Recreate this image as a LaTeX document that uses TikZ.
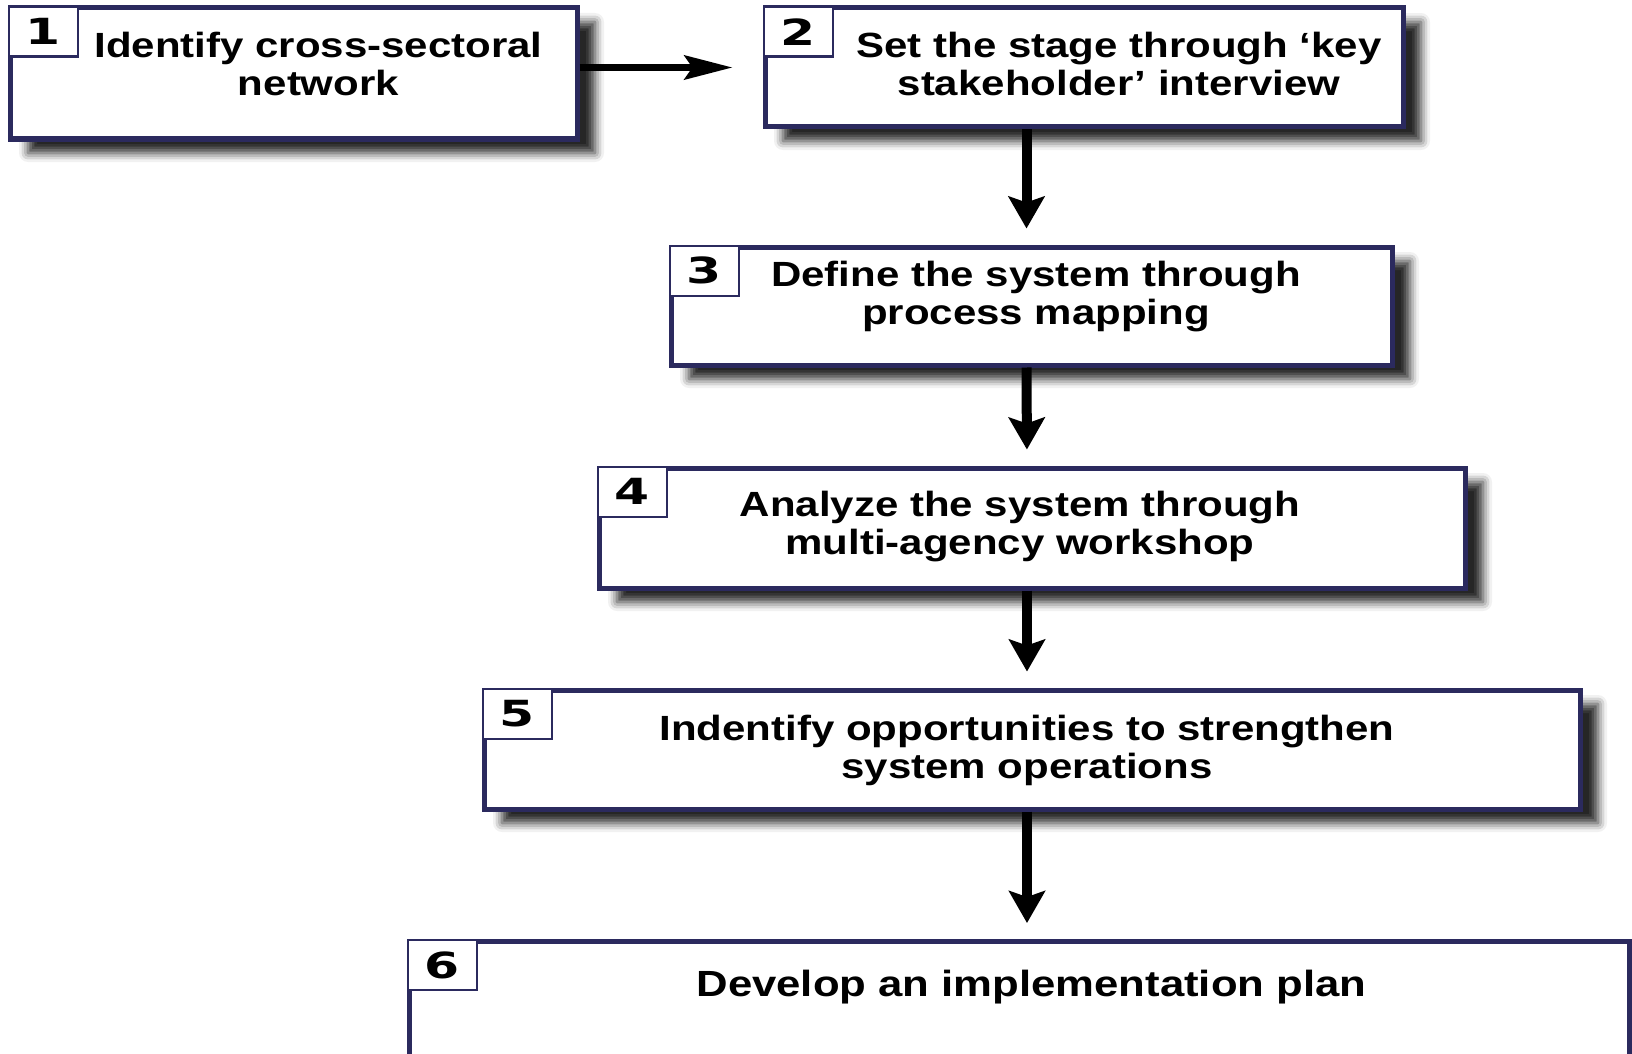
\documentclass[tikz,border=0pt]{standalone}
\usepackage{fontspec}
\setmainfont{Liberation Sans}[FakeStretch=1.2]
\newfontfamily\digitfont{DejaVu Sans}[FakeStretch=1.4]
\usetikzlibrary{arrows.meta,shadows.blur}
\definecolor{boxnavy}{RGB}{43,42,94}
\tikzset{
  stepbox/.style={draw=boxnavy, line width=2.5pt, fill=white,
    blur shadow={shadow xshift=9pt, shadow yshift=-7pt, shadow blur radius=4.5pt, shadow opacity=85}},
  steptext/.style={align=center, inner sep=0pt, font=\bfseries\fontsize{17.5}{19}\selectfont},
  numbox/.style={draw=boxnavy, line width=1.2pt, fill=white, anchor=north west, inner sep=0pt,
    minimum width=34.5pt, minimum height=25pt, font=\digitfont\bfseries\fontsize{18}{18}\selectfont},
  flowv/.style={-{Stealth[length=16pt,width=18pt,inset=3pt]}, line width=5pt, shorten >=8pt},
  flowh/.style={-{Stealth[length=24pt,width=12pt,inset=4pt]}, line width=3.5pt, shorten >=15pt}
}
\begin{document}
\begin{tikzpicture}[x=0.5pt,y=-0.5pt]
                      \path[use as bounding box, clip] (0,0) rectangle (1632,1054);
                      \node[stepbox, minimum width=283.5pt, minimum height=65.5pt] (s1) at (293.5,73.5) {};
                      \node[numbox] (n1) at (s1.north west) {1};
                      \node[steptext] (t1) at (318.5,64) {Identify cross-sectoral\\network};
                      \node[stepbox, minimum width=319pt, minimum height=59.5pt] (s2) at (1084,67.5) {};
                      \node[numbox] (n2) at (s2.north west) {2};
                      \node[steptext] (t2) at (1119,64) {Set the stage through `key\\stakeholder' interview};
                      \node[stepbox, minimum width=360.5pt, minimum height=59pt] (s3) at (1031.5,306) {};
                      \node[numbox] (n3) at (s3.north west) {3};
                      \node[steptext] (t3) at (1036,297) {Define the system through\\process mapping};
                      \node[stepbox, minimum width=433pt, minimum height=60pt] (s4) at (1032,528) {};
                      \node[numbox] (n4) at (s4.north west) {4};
                      \node[steptext] (t4) at (1020,527) {Analyze the system through\\multi-agency workshop};
                      \node[stepbox, minimum width=548pt, minimum height=59.5pt] (s5) at (1032,749.5) {};
                      \node[numbox] (n5) at (s5.north west) {5};
                      \node[steptext] (t5) at (1027,750) {Indentify opportunities to strengthen\\system operations};
                      \node[stepbox, minimum width=610pt, minimum height=100pt, anchor=north] (s6) at (1019,939) {};
                      \node[numbox] (n6) at (s6.north west) {6};
                      \node[steptext, anchor=base, font=\bfseries\fontsize{18.2}{19}\selectfont] (t6) at (1031.5,996) {Develop an implementation plan};
                      \draw[flowh] (s1.east |- s2.center) -- (s2.west);
                      \draw[flowv] ([xshift=-2.5pt]s2.south -| s3.north) -- ([xshift=-2.5pt]s3.north);
                      \draw[flowv] ([xshift=-2.5pt]s3.south) -- ([xshift=-2.5pt]s4.north);
                      \draw[flowv] ([xshift=-2.5pt]s4.south) -- ([xshift=-2.5pt]s5.north);
                      \draw[flowv] ([xshift=-2.5pt]s5.south) -- ([xshift=-2.5pt]s5.south |- s6.north);
                  \end{tikzpicture}
\end{document}
